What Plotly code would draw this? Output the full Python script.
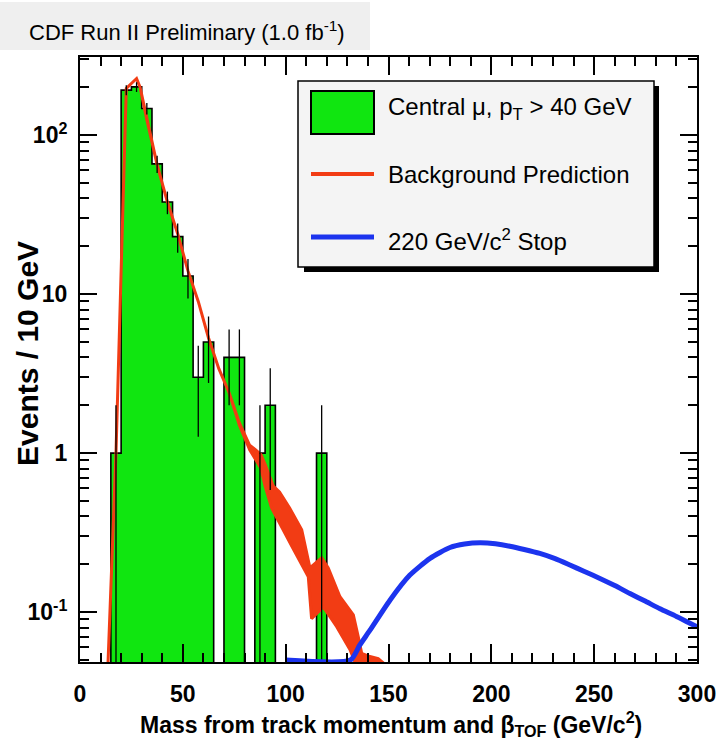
import numpy as np
import plotly.graph_objects as go

# ---------------- data ----------------
bin_edges = list(range(0, 305, 5))
# counts per 5 GeV bin; bins not listed are zero
hist_left = [15, 20, 25, 30, 35, 40, 45, 50, 55, 60, 70, 75, 85, 90, 115]
hist_counts = [1, 192, 201, 147, 66, 38, 23, 13, 3, 5, 4, 4, 1, 2, 1]

# background prediction band (upper / lower edges)
bg_up_x = [12.5, 17.5, 22.5, 27.5, 29.2, 32.5, 37.5, 42.5, 47.5, 52.5, 57.5, 62.5, 67.5, 72.5, 77.5,
           82.5, 85, 88, 90, 94, 97, 102, 107.8, 111.8, 117.5, 120.7, 126.4, 132.9, 135.3, 137,
           140, 145, 150]
bg_up_y = [0.02, 1.0, 197, 227, 200, 125, 65, 38, 24, 14, 9, 5.3, 3.4, 2.4, 1.55,
           1.12, 1.06, 0.98, 0.85, 0.62, 0.57, 0.45, 0.33, 0.19, 0.22, 0.19, 0.125, 0.096, 0.07, 0.055,
           0.053, 0.051, 0.045]
bg_lo_x = [12.5, 17.5, 22.5, 27.5, 29.2, 32.5, 37.5, 42.5, 47.5, 52.5, 57.5, 62.5, 67.5, 72.5, 77.5,
           82.5, 85, 88, 90, 93.2, 97, 103, 111, 112.6, 118.3, 124.8, 131.3, 133.8, 140, 150]
bg_lo_y = [0.02, 1.0, 197, 227, 200, 125, 65, 38, 24, 14, 9, 5.3, 3.4, 2.4, 1.5,
           1.05, 0.93, 0.8, 0.62, 0.45, 0.36, 0.26, 0.167, 0.091, 0.108, 0.081, 0.058, 0.048, 0.045, 0.045]

# 220 GeV/c^2 stop signal
stop_x = [100, 131.5, 136, 141, 150.7, 160.4, 170.2, 179.9, 187, 194.5, 202, 209, 216, 223.6, 231,
          238.2, 245, 252.8, 260, 267.4, 275, 282, 290, 300]
stop_y = [0.05, 0.05, 0.062, 0.077, 0.119, 0.171, 0.218, 0.255, 0.268, 0.273, 0.269, 0.26, 0.248,
          0.234, 0.217, 0.198, 0.181, 0.163, 0.147, 0.131, 0.117, 0.105, 0.094, 0.081]

y_tickvals = [0.1, 1, 10, 100]
y_ticktext = ["10<sup>-1</sup>", "1", "10", "10<sup>2</sup>"]
x_tickvals = [0, 50, 100, 150, 200, 250, 300]

# ---------------- styling ----------------
W, H = 719, 751
L, R, T, B = 80, 697, 57, 662
SANS = "Liberation Sans, Arial, Helvetica, sans-serif"
GREEN = "#10e610"
RED = "#f23c14"
BLUE = "#1c34ee"
YMIN, YMAX = 0.0486, 310


def fx(X):
    return (X - L) / (R - L)


def fy(Y):
    return (B - Y) / (B - T)


edges = np.array(bin_edges, dtype=float)
counts = np.zeros(len(edges) - 1)
for lft, c in zip(hist_left, hist_counts):
    counts[bin_edges.index(lft)] = c
centers = 0.5 * (edges[:-1] + edges[1:])
nz = counts > 0

fig = go.Figure()

# green histogram fill
fig.add_trace(go.Bar(x=centers[nz], y=counts[nz], width=5, marker=dict(color=GREEN, line=dict(width=0)),
                     showlegend=False, hoverinfo="skip"))

# step outline (ROOT style)
floor = 1e-3
step_y = np.where(counts > 0, counts, floor)
sx = np.concatenate([edges[:-1], [edges[-1]]])
sy = np.concatenate([step_y, [floor]])
fig.add_trace(go.Scatter(x=sx, y=sy, mode="lines", line=dict(color="black", width=1.6, shape="hv"),
                         showlegend=False, hoverinfo="skip"))

# background band
poly_x = list(bg_up_x) + list(bg_lo_x[::-1])
poly_y = list(bg_up_y) + list(bg_lo_y[::-1])
fig.add_trace(go.Scatter(x=poly_x, y=poly_y, mode="lines", fill="toself", fillcolor=RED,
                         line=dict(color=RED, width=3), showlegend=False, hoverinfo="skip"))

# error bars
cnz = counts[nz]
err = np.sqrt(cnz)
errm = np.minimum(err, cnz * 0.999)
fig.add_trace(go.Scatter(x=centers[nz], y=cnz, mode="markers", marker=dict(size=1, color="black"),
                         error_y=dict(type="data", array=err, arrayminus=errm, color="black",
                                      thickness=1.3, width=0),
                         showlegend=False, hoverinfo="skip"))

# signal
fig.add_trace(go.Scatter(x=stop_x, y=stop_y, mode="lines", line=dict(color=BLUE, width=5, shape="spline",
                                                                      smoothing=0.6),
                         showlegend=False, hoverinfo="skip"))

axis_common = dict(showline=True, linecolor="black", linewidth=2, mirror="allticks", ticks="inside",
                   tickcolor="black", showgrid=False, zeroline=False,
                   tickfont=dict(family=SANS, size=23, color="black", weight="bold"))

fig.update_xaxes(range=[0, 300], tickmode="array", tickvals=x_tickvals, ticklen=18, tickwidth=1.5,
                 minor=dict(dtick=10, tick0=0, ticks="inside", ticklen=9, tickwidth=1.5, tickcolor="black"),
                 ticklabelstandoff=10, **axis_common)
minor_y = [m * 10 ** e for e in range(-2, 3) for m in range(2, 10)]
fig.update_yaxes(type="log", range=[np.log10(YMIN), np.log10(YMAX)], tickmode="array",
                 tickvals=y_tickvals, ticktext=y_ticktext, ticklen=17, tickwidth=1.5,
                 minor=dict(tickmode="array", tickvals=minor_y, ticks="inside", ticklen=9, tickwidth=1.5,
                            tickcolor="black"),
                 ticklabelstandoff=6, **axis_common)

shapes = []
annotations = []

# title box
shapes.append(dict(type="rect", xref="paper", yref="paper", x0=fx(0), x1=fx(370), y0=fy(50), y1=fy(2),
                   fillcolor="#efefef", line=dict(width=0), layer="below"))
annotations.append(dict(xref="paper", yref="paper", x=fx(27), y=fy(31), xanchor="left", yanchor="middle",
                        text="CDF Run II Preliminary (1.0 fb<sup>-1</sup>)", showarrow=False,
                        font=dict(family=SANS, size=22, color="black")))

# legend (drawn manually, ROOT TLegend style)
shapes.append(dict(type="rect", xref="paper", yref="paper", x0=fx(304), x1=fx(659), y0=fy(272), y1=fy(86),
                   fillcolor="black", line=dict(width=0)))
shapes.append(dict(type="rect", xref="paper", yref="paper", x0=fx(298), x1=fx(654), y0=fy(267), y1=fy(81),
                   fillcolor="#f4f4f4", line=dict(color="black", width=1.5)))
shapes.append(dict(type="rect", xref="paper", yref="paper", x0=fx(311), x1=fx(374), y0=fy(134), y1=fy(91),
                   fillcolor=GREEN, line=dict(color="black", width=2)))
shapes.append(dict(type="line", xref="paper", yref="paper", x0=fx(311), x1=fx(374), y0=fy(174), y1=fy(174),
                   line=dict(color=RED, width=4)))
shapes.append(dict(type="line", xref="paper", yref="paper", x0=fx(311), x1=fx(374), y0=fy(237), y1=fy(237),
                   line=dict(color=BLUE, width=5)))
leg_font = dict(family=SANS, size=24, color="black")
annotations.append(dict(xref="paper", yref="paper", x=fx(386), y=fy(108), xanchor="left", yanchor="middle",
                        text="Central μ, p<sub>T</sub> > 40 GeV", showarrow=False, font=leg_font))
annotations.append(dict(xref="paper", yref="paper", x=fx(386), y=fy(174), xanchor="left", yanchor="middle",
                        text="Background Prediction", showarrow=False, font=leg_font))
annotations.append(dict(xref="paper", yref="paper", x=fx(386), y=fy(240), xanchor="left", yanchor="middle",
                        text="220 GeV/c<sup>2</sup> Stop", showarrow=False, font=leg_font))

# axis titles
annotations.append(dict(xref="paper", yref="paper", x=fx(391), y=fy(724), xanchor="center", yanchor="middle",
                        text="<b>Mass from track momentum and β<sub>TOF</sub> (GeV/c<sup>2</sup>)</b>",
                        showarrow=False, font=dict(family=SANS, size=23, color="black")))
annotations.append(dict(xref="paper", yref="paper", x=fx(27), y=fy(354), xanchor="center", yanchor="middle",
                        text="<b>Events / 10 GeV</b>", textangle=-90, showarrow=False,
                        font=dict(family=SANS, size=30, color="black")))

fig.update_layout(width=W, height=H, margin=dict(l=L, r=W - R, t=T, b=H - B, autoexpand=False),
                  paper_bgcolor="white", plot_bgcolor="white", shapes=shapes, annotations=annotations,
                  showlegend=False, bargap=0, barmode="overlay")

fig.write_html("out.html")
